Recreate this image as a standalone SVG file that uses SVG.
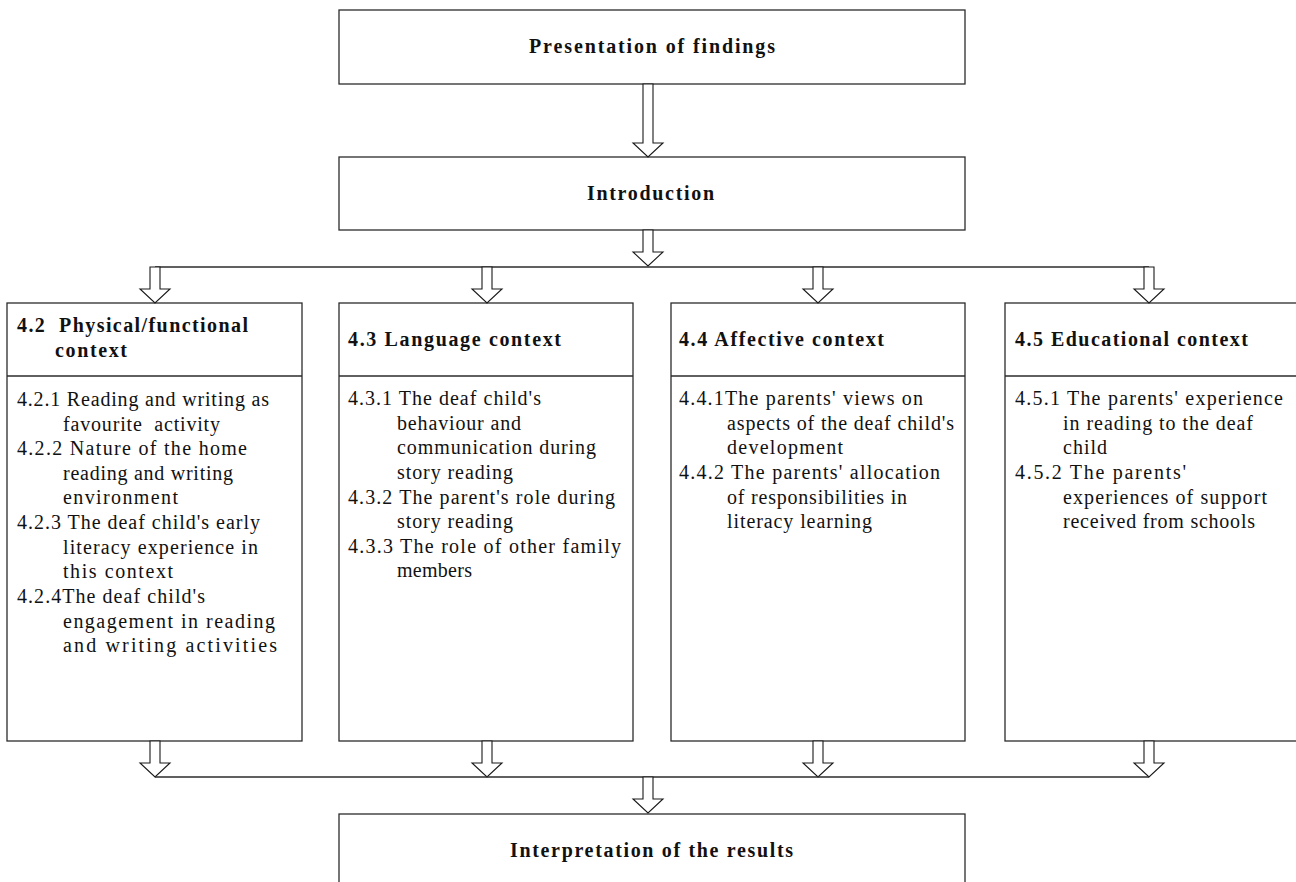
<svg xmlns="http://www.w3.org/2000/svg" width="1296" height="882" viewBox="0 0 1296 882">
  <style>
    .box { fill: #ffffff; stroke: #2b2b2b; stroke-width: 1.3; }
    .rule { fill: none; stroke: #2b2b2b; stroke-width: 1.3; }
    .arrow { fill: #ffffff; stroke: #1a1a1a; stroke-width: 1.1; stroke-linejoin: miter; }
    text { font-family: "Liberation Serif", "Times New Roman", serif; font-size: 20px; fill: #111111; }
    .title { font-weight: bold; }
    .body { letter-spacing: 1px; }
  </style>
  <defs>
    <!-- short block arrow: 36 px tall, tip at y=36 -->
    <path id="arrShort" d="M-5,0 V22 H-15 L0,36 L15,22 H5 V0 Z"/>
    <!-- long block arrow: 73 px tall, tip at y=73 -->
    <path id="arrLong" d="M-5,0 V59 H-15 L0,73 L15,59 H5 V0 Z"/>
  </defs>

  <!-- Top level -->
  <g id="node-presentation">
    <rect class="box" x="339" y="10" width="626" height="74"/>
    <text class="title" x="529" y="53" textLength="246" lengthAdjust="spacing">Presentation of findings</text>
  </g>

  <g id="node-introduction">
    <rect class="box" x="339" y="157" width="626" height="73"/>
    <text class="title" x="587" y="200" textLength="127" lengthAdjust="spacing">Introduction</text>
  </g>

  <!-- 4.2 -->
  <g id="node-physical">
    <rect class="box" x="7" y="303" width="295" height="438"/>
    <line class="rule" x1="7" y1="376" x2="302" y2="376"/>
    <text class="title" x="17" y="332" textLength="231" lengthAdjust="spacing" xml:space="preserve">4.2  Physical/functional</text>
    <text class="title" x="55" y="357" textLength="72" lengthAdjust="spacing">context</text>
    <text x="17" y="406" textLength="252" lengthAdjust="spacing">4.2.1 Reading and writing as</text>
    <text x="63" y="430.5" textLength="157" lengthAdjust="spacing" xml:space="preserve">favourite  activity</text>
    <text x="17" y="455" textLength="230" lengthAdjust="spacing">4.2.2 Nature of the home</text>
    <text x="63" y="480" textLength="170" lengthAdjust="spacing">reading and writing</text>
    <text x="63" y="504" textLength="115" lengthAdjust="spacing">environment</text>
    <text x="17" y="529" textLength="243" lengthAdjust="spacing">4.2.3 The deaf child's early</text>
    <text x="63" y="554" textLength="195" lengthAdjust="spacing">literacy experience in</text>
    <text x="63" y="578" textLength="110" lengthAdjust="spacing">this context</text>
    <text x="17" y="603" textLength="188" lengthAdjust="spacing">4.2.4The deaf child's</text>
    <text x="63" y="628" textLength="212" lengthAdjust="spacing">engagement in reading</text>
    <text x="63" y="652" textLength="214" lengthAdjust="spacing">and writing activities</text>
  </g>

  <!-- 4.3 -->
  <g id="node-language">
    <rect class="box" x="339" y="303" width="294" height="438"/>
    <line class="rule" x1="339" y1="376" x2="633" y2="376"/>
    <text class="title" x="348" y="346" textLength="213" lengthAdjust="spacing">4.3 Language context</text>
    <text x="348" y="405" textLength="193" lengthAdjust="spacing">4.3.1 The deaf child's</text>
    <text x="397" y="430" textLength="124" lengthAdjust="spacing">behaviour and</text>
    <text x="397" y="454" textLength="199" lengthAdjust="spacing">communication during</text>
    <text x="397" y="479" textLength="116" lengthAdjust="spacing">story reading</text>
    <text x="348" y="504" textLength="267" lengthAdjust="spacing">4.3.2 The parent's role during</text>
    <text x="397" y="528" textLength="116" lengthAdjust="spacing">story reading</text>
    <text x="348" y="553" textLength="273" lengthAdjust="spacing">4.3.3 The role of other family</text>
    <text x="397" y="577" textLength="75" lengthAdjust="spacing">members</text>
  </g>

  <!-- 4.4 -->
  <g id="node-affective">
    <rect class="box" x="671" y="303" width="294" height="438"/>
    <line class="rule" x1="671" y1="376" x2="965" y2="376"/>
    <text class="title" x="679" y="346" textLength="205" lengthAdjust="spacing">4.4 Affective context</text>
    <text x="679" y="405" textLength="244" lengthAdjust="spacing">4.4.1The parents' views on</text>
    <text x="727" y="430" textLength="227" lengthAdjust="spacing">aspects of the deaf child's</text>
    <text x="727" y="454" textLength="116" lengthAdjust="spacing">development</text>
    <text x="679" y="479" textLength="261" lengthAdjust="spacing">4.4.2 The parents' allocation</text>
    <text x="727" y="504" textLength="180" lengthAdjust="spacing">of responsibilities in</text>
    <text x="727" y="528" textLength="145" lengthAdjust="spacing">literacy learning</text>
  </g>

  <!-- 4.5 (runs past the right edge) -->
  <g id="node-educational">
    <rect class="box" x="1005" y="303" width="300" height="438"/>
    <line class="rule" x1="1005" y1="376" x2="1305" y2="376"/>
    <text class="title" x="1015" y="346" textLength="233" lengthAdjust="spacing">4.5 Educational context</text>
    <text x="1015" y="405" textLength="268" lengthAdjust="spacing">4.5.1 The parents' experience</text>
    <text x="1063" y="430" textLength="190" lengthAdjust="spacing">in reading to the deaf</text>
    <text class="body" x="1063" y="454">child</text>
    <text x="1015" y="479" textLength="171" lengthAdjust="spacing">4.5.2 The parents'</text>
    <text x="1063" y="504" textLength="204" lengthAdjust="spacing">experiences of support</text>
    <text x="1063" y="528" textLength="192" lengthAdjust="spacing">received from schools</text>
  </g>

  <!-- Bottom level -->
  <g id="node-interpretation">
    <rect class="box" x="339" y="814" width="626" height="90"/>
    <text class="title" x="510" y="857" textLength="283" lengthAdjust="spacing">Interpretation of the results</text>
  </g>

  <!-- Connectors -->
  <g id="connectors">
    <use href="#arrLong" class="arrow" x="648" y="84"/>
    <use href="#arrShort" class="arrow" x="648" y="230"/>
    <line class="rule" x1="155" y1="267" x2="1149" y2="267"/>
    <use href="#arrShort" class="arrow" x="155" y="267"/>
    <use href="#arrShort" class="arrow" x="487" y="267"/>
    <use href="#arrShort" class="arrow" x="818" y="267"/>
    <use href="#arrShort" class="arrow" x="1149" y="267"/>

    <use href="#arrShort" class="arrow" x="155" y="741"/>
    <use href="#arrShort" class="arrow" x="487" y="741"/>
    <use href="#arrShort" class="arrow" x="818" y="741"/>
    <use href="#arrShort" class="arrow" x="1149" y="741"/>
    <line class="rule" x1="155" y1="777" x2="1149" y2="777"/>
    <use href="#arrShort" class="arrow" x="648" y="777"/>
  </g>
</svg>
